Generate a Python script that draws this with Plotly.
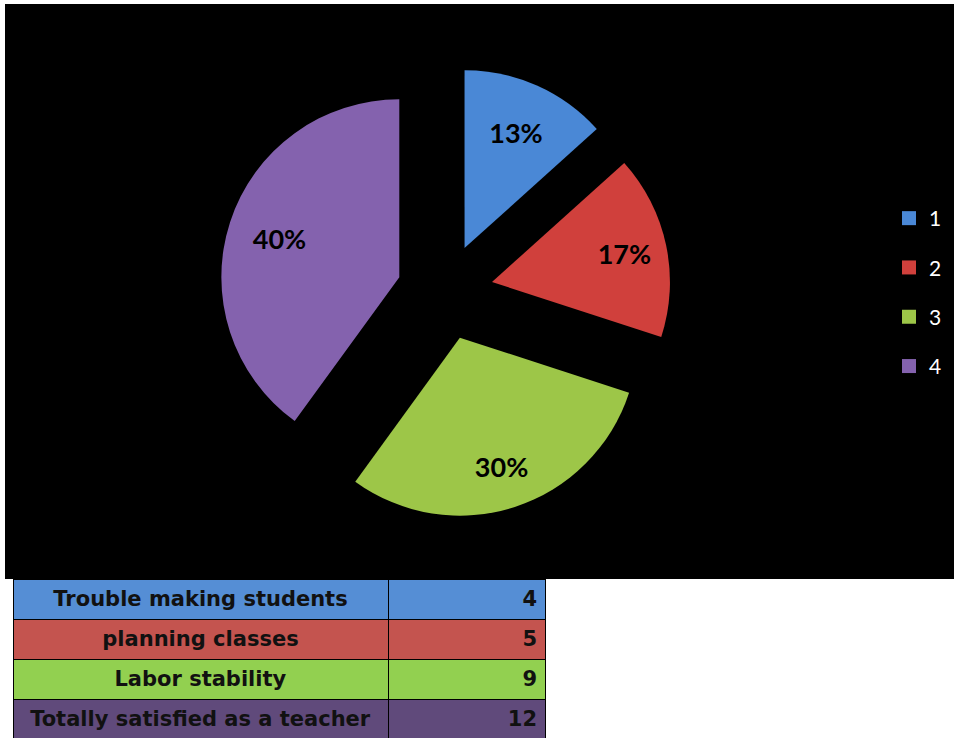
import plotly.graph_objects as go

# Survey answers
categories = ["Trouble making students", "planning classes", "Labor stability",
              "Totally satisfied as a teacher"]
counts = [4, 5, 9, 12]
legend_labels = ["1", "2", "3", "4"]

slice_colors = ["#4A88D6", "#D0403C", "#9DC648", "#8462AE"]
table_colors = ["#558ED5", "#C4544F", "#92D050", "#604A7B"]

W, H = 954, 738
CX, CY, HALF = 445, 292, 226   # pie centre and half-size of its square domain (px)
PULL = 0.27
PCT = "<b>%{percent:.0%}</b>"


def pie_domain(scale):
    """Square domain around the pie centre, enlarged by `scale`."""
    h = HALF * scale
    return dict(x=[(CX - h) / W, (CX + h) / W], y=[1 - (CY + h) / H, 1 - (CY - h) / H])


def pie_trace(scale, colors, templates):
    return go.Pie(
        labels=legend_labels,
        values=counts,
        sort=False,
        direction="clockwise",
        rotation=0,
        pull=[PULL] * len(counts),
        marker=dict(colors=colors, line=dict(width=0)),
        texttemplate=templates,
        textposition="inside",
        insidetextorientation="horizontal",
        textfont=dict(family="Lato", size=27, color="black"),
        domain=pie_domain(scale),
        showlegend=False,
        hoverinfo="skip" if scale != 1 else "label+value+percent",
    )


fig = go.Figure()

clear = ["rgba(0,0,0,0)"] * len(counts)
# Exploded pie of the answer shares
fig.add_trace(pie_trace(1.0, slice_colors, [PCT, "", "", ""]))
# Transparent copies carry the labels of the wider slices further out
fig.add_trace(pie_trace(1.10, clear, ["", PCT, "", ""]))
fig.add_trace(pie_trace(1.25, clear, ["", "", PCT, PCT]))

# Legend entries (one group per answer so spacing can be set)
for lab, col in zip(legend_labels, slice_colors):
    fig.add_trace(go.Scatter(
        x=[None], y=[None], mode="markers", name=lab, legendgroup=lab,
        marker=dict(symbol="square", size=14, color=col),
        showlegend=True,
    ))

# Data table below the chart: first row rendered as header
tfont = dict(family="DejaVu Sans", size=21, color="#111111")
header_vals = [[f"<b>{categories[0]}</b>"], [f"<b>{counts[0]}</b>"]]
cell_vals = [[f"<b>{c}</b>" for c in categories[1:]],
             [f"<b>{v}</b>" for v in counts[1:]]]
fig.add_trace(go.Table(
    domain=dict(x=[13 / W, 545 / W], y=[0, 1 - 579 / H]),
    columnwidth=[375, 157],
    header=dict(
        values=header_vals,
        fill_color=table_colors[0],
        line=dict(color="black", width=1),
        align=["center", "right"],
        height=39,
        font=tfont,
    ),
    cells=dict(
        values=cell_vals,
        fill_color=[table_colors[1:], table_colors[1:]],
        line=dict(color="black", width=1),
        align=["center", "right"],
        height=39,
        font=tfont,
    ),
))

fig.update_layout(
    width=W, height=H,
    margin=dict(l=0, r=0, t=0, b=0),
    paper_bgcolor="white",
    plot_bgcolor="rgba(0,0,0,0)",
    xaxis=dict(visible=False),
    yaxis=dict(visible=False),
    legend=dict(
        x=889 / W, y=1 - 198 / H, xanchor="left", yanchor="top",
        font=dict(family="Lato", size=21, color="white"),
        bgcolor="rgba(0,0,0,0)",
        tracegroupgap=19,
        traceorder="grouped",
        itemwidth=30,
    ),
    shapes=[dict(
        type="rect", xref="paper", yref="paper", layer="below",
        x0=5 / W, x1=1, y0=1 - 579 / H, y1=1 - 4 / H,
        fillcolor="black", line=dict(width=0),
    )],
)

fig.write_html("out.html")
